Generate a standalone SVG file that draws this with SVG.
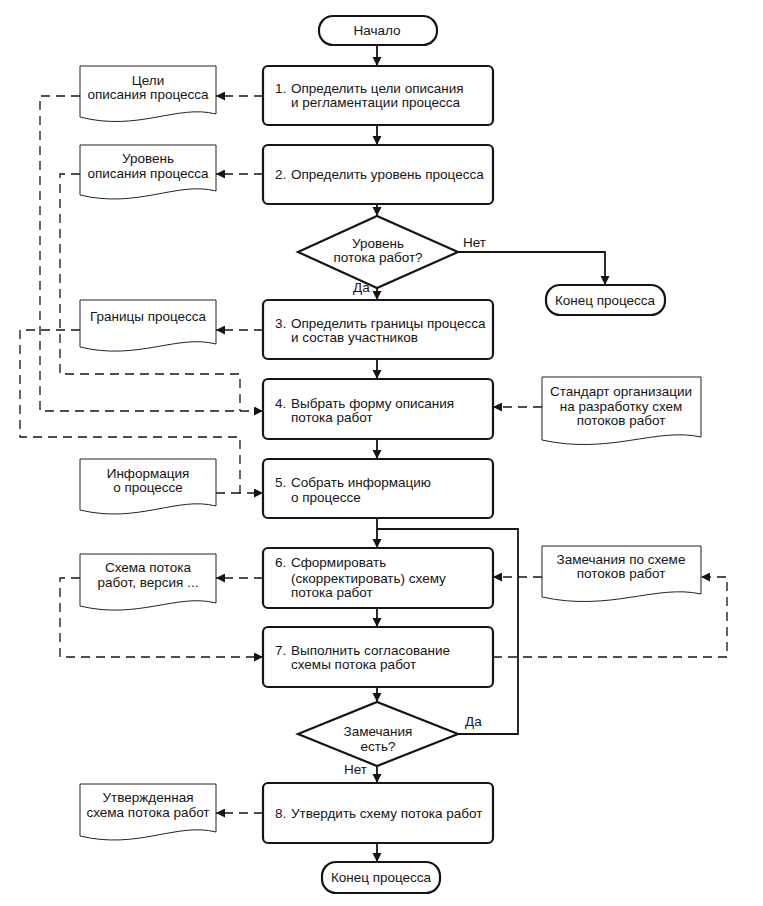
<svg xmlns="http://www.w3.org/2000/svg" width="763" height="906" viewBox="0 0 763 906">
<defs>
<style>
.t{font-family:"Liberation Sans",Arial,sans-serif;font-size:13.5px;fill:#151515}
.c{text-anchor:middle}
.box{fill:#fff;stroke:#151515;stroke-width:2.2}
.doc{fill:#fff;stroke:#222;stroke-width:1}
.sol{fill:none;stroke:#151515;stroke-width:1.8}
.dsh{fill:none;stroke:#151515;stroke-width:1.3;stroke-dasharray:9 6}
</style>
<marker id="a" viewBox="0 0 10 10" refX="10" refY="5" markerWidth="9" markerHeight="10" orient="auto" markerUnits="userSpaceOnUse"><path d="M0,0 L10,5 L0,10 z" fill="#151515"/></marker>
<marker id="d" viewBox="0 0 10 10" refX="10" refY="5" markerWidth="10" markerHeight="9" orient="auto" markerUnits="userSpaceOnUse"><path d="M0,0 L10,5 L0,10 z" fill="#151515"/></marker>
</defs>
<rect width="763" height="906" fill="#fff"/>

<g id="connectors">
<path class="sol" marker-end="url(#a)" d="M377,45 V66"/>
<path class="sol" marker-end="url(#a)" d="M377,125 V145"/>
<path class="sol" marker-end="url(#a)" d="M377,204 V216"/>
<path class="sol" marker-end="url(#a)" d="M377,288 V300"/>
<path class="sol" marker-end="url(#a)" d="M377,359 V379"/>
<path class="sol" marker-end="url(#a)" d="M377,439 V459"/>
<path class="sol" marker-end="url(#a)" d="M377,518 V548"/>
<path class="sol" marker-end="url(#a)" d="M377,608 V627"/>
<path class="sol" marker-end="url(#a)" d="M377,687 V702"/>
<path class="sol" marker-end="url(#a)" d="M377,766 V783"/>
<path class="sol" marker-end="url(#a)" d="M377,843 V862"/>
<path class="sol" marker-end="url(#a)" d="M458,252 H605 V285"/>
<path class="sol" d="M458,734 H518 V529 H377"/>
<path class="dsh" marker-end="url(#d)" d="M263,96 H216"/>
<path class="dsh" marker-end="url(#d)" d="M80,96 H40 V411 H263"/>
<path class="dsh" marker-end="url(#d)" d="M263,174 H216"/>
<path class="dsh" d="M80,174 H60 V374 H240 V411"/>
<path class="dsh" marker-end="url(#d)" d="M263,330 H216"/>
<path class="dsh" marker-end="url(#d)" d="M80,330 H20 V437 H240 V493 H263"/>
<path class="dsh" d="M216,493 H240"/>
<path class="dsh" marker-end="url(#d)" d="M542,407 H493"/>
<path class="dsh" marker-end="url(#d)" d="M263,578 H216"/>
<path class="dsh" marker-end="url(#d)" d="M80,578 H60 V657 H263"/>
<path class="dsh" marker-end="url(#d)" d="M542,577 H493"/>
<path class="dsh" marker-end="url(#d)" d="M493,657 H727 V577 H701"/>
<path class="dsh" marker-end="url(#d)" d="M263,813 H216"/>
</g>

<g id="start"><rect class="box" x="319" y="16" width="118" height="29" rx="14"/><text class="t c" x="377" y="35">Начало</text></g>

<g id="step1"><rect class="box" x="263" y="66" width="230" height="59" rx="5"/>
<text class="t" y="93"><tspan x="275">1.</tspan><tspan x="291">Определить цели описания</tspan></text>
<text class="t" x="291" y="107">и регламентации процесса</text></g>

<g id="step2"><rect class="box" x="263" y="145" width="230" height="59" rx="5"/>
<text class="t" y="179"><tspan x="275">2.</tspan><tspan x="291">Определить уровень процесса</tspan></text></g>

<g id="dec1"><path class="box" d="M298,252 L377,216 L458,252 L377,288 Z"/>
<text class="t c" x="378" y="248">Уровень</text>
<text class="t c" x="378" y="262">потока работ?</text>
<text class="t" x="463" y="247">Нет</text>
<text class="t" x="353" y="292">Да</text></g>

<g id="end1"><rect class="box" x="546" y="285" width="119" height="30" rx="14"/><text class="t c" x="605" y="305">Конец процесса</text></g>

<g id="step3"><rect class="box" x="263" y="300" width="230" height="59" rx="5"/>
<text class="t" y="328"><tspan x="275">3.</tspan><tspan x="291">Определить границы процесса</tspan></text>
<text class="t" x="291" y="342">и состав участников</text></g>

<g id="step4"><rect class="box" x="263" y="379" width="230" height="60" rx="5"/>
<text class="t" y="408"><tspan x="275">4.</tspan><tspan x="291">Выбрать форму описания</tspan></text>
<text class="t" x="291" y="422">потока работ</text></g>

<g id="step5"><rect class="box" x="263" y="459" width="230" height="59" rx="5"/>
<text class="t" y="487"><tspan x="275">5.</tspan><tspan x="291">Собрать информацию</tspan></text>
<text class="t" x="291" y="502">о процессе</text></g>

<g id="step6"><rect class="box" x="263" y="548" width="230" height="60" rx="5"/>
<text class="t" y="567"><tspan x="275">6.</tspan><tspan x="291">Сформировать</tspan></text>
<text class="t" x="291" y="583">(скорректировать) схему</text>
<text class="t" x="291" y="597">потока работ</text></g>

<g id="step7"><rect class="box" x="263" y="627" width="230" height="60" rx="5"/>
<text class="t" y="655"><tspan x="275">7.</tspan><tspan x="291">Выполнить согласование</tspan></text>
<text class="t" x="291" y="669">схемы потока работ</text></g>

<g id="dec2"><path class="box" d="M298,734 L377,702 L458,734 L377,766 Z"/>
<text class="t c" x="378" y="736">Замечания</text>
<text class="t c" x="378" y="751">есть?</text>
<text class="t" x="465" y="726">Да</text>
<text class="t" x="344" y="774">Нет</text></g>

<g id="step8"><rect class="box" x="263" y="783" width="230" height="60" rx="5"/>
<text class="t" y="818"><tspan x="275">8.</tspan><tspan x="291">Утвердить схему потока работ</tspan></text></g>

<g id="end2"><rect class="box" x="322" y="862" width="118" height="31" rx="14"/><text class="t c" x="381" y="882">Конец процесса</text></g>

<g id="doc1"><path class="doc" d="M80,66 H216 V114 C177,104 138,132 80,117 Z"/>
<text class="t c" x="148" y="85">Цели</text><text class="t c" x="148" y="99">описания процесса</text></g>

<g id="doc2"><path class="doc" d="M80,145 H216 V191 C177,181 138,209 80,195 Z"/>
<text class="t c" x="148" y="163">Уровень</text><text class="t c" x="148" y="178">описания процесса</text></g>

<g id="doc3"><path class="doc" d="M80,300 H216 V344 C177,334 138,361 80,347 Z"/>
<text class="t c" x="148" y="321">Границы процесса</text></g>

<g id="doc4"><path class="doc" d="M80,459 H216 V506 C177,496 138,524 80,510 Z"/>
<text class="t c" x="148" y="478">Информация</text><text class="t c" x="148" y="492">о процессе</text></g>

<g id="doc5"><path class="doc" d="M80,554 H216 V603 C177,593 138,620 80,606 Z"/>
<text class="t c" x="148" y="572">Схема потока</text><text class="t c" x="148" y="587">работ, версия ...</text></g>

<g id="doc6"><path class="doc" d="M80,784 H216 V832 C177,822 138,850 80,836 Z"/>
<text class="t c" x="148" y="802">Утвержденная</text><text class="t c" x="148" y="817">схема потока работ</text></g>

<g id="doc7"><path class="doc" d="M542,377 H701 V437 C656,427 610,455 542,440 Z"/>
<text class="t c" x="621" y="396">Стандарт организации</text><text class="t c" x="621" y="411">на разработку схем</text><text class="t c" x="621" y="425">потоков работ</text></g>

<g id="doc8"><path class="doc" d="M542,546 H701 V594 C656,584 610,612 542,597 Z"/>
<text class="t c" x="621" y="564">Замечания по схеме</text><text class="t c" x="621" y="578">потоков работ</text></g>
</svg>
